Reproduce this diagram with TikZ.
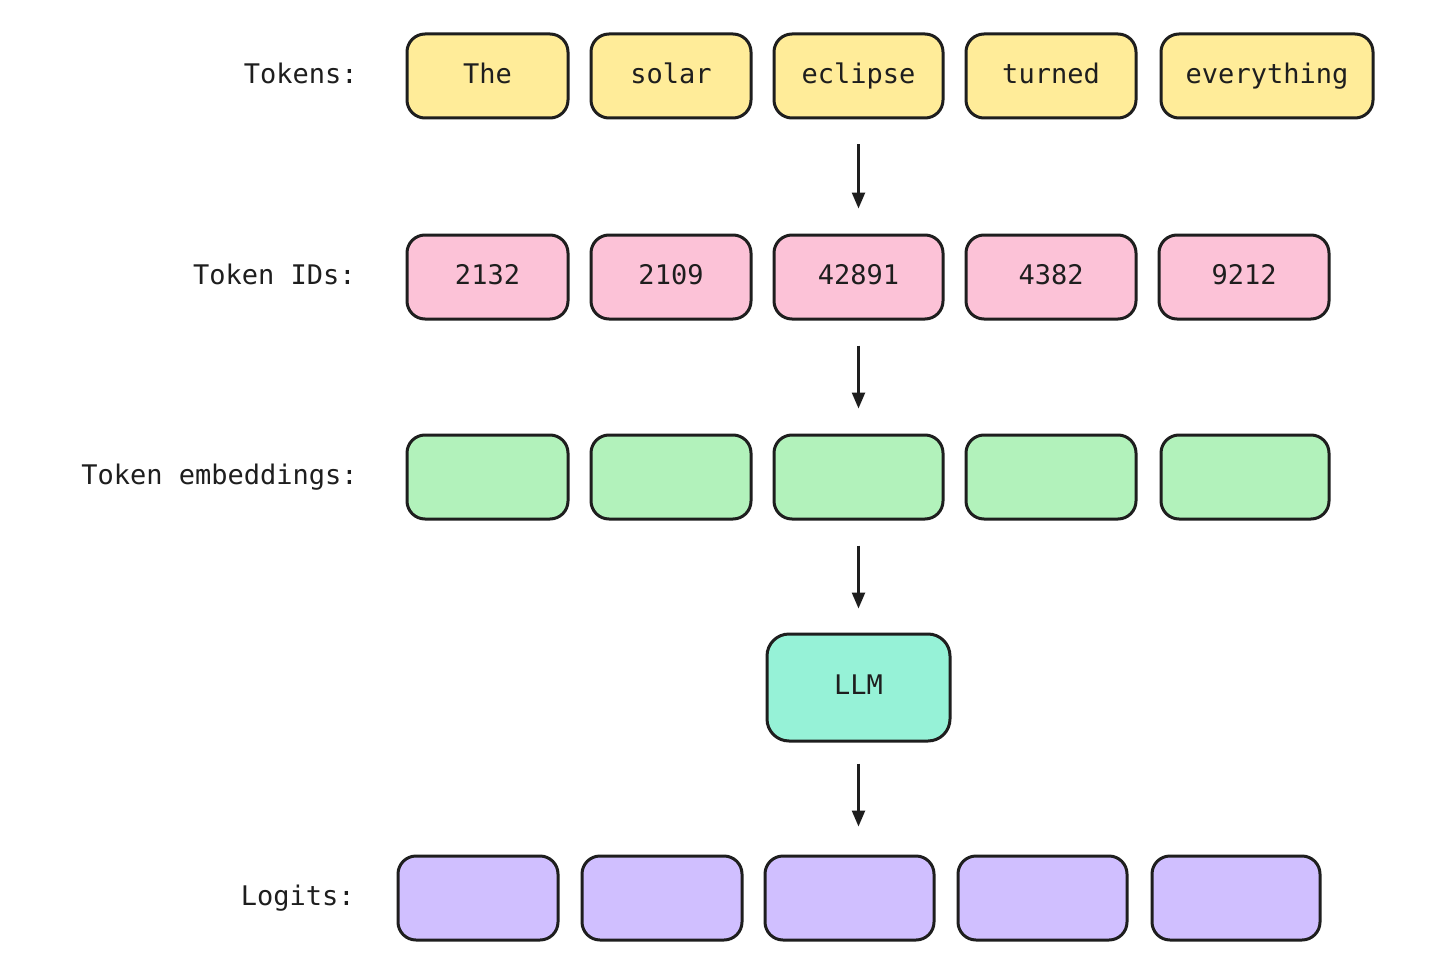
\documentclass[tikz,border=0pt]{standalone}
\usepackage{fontspec}
\setmonofont{DejaVu Sans Mono}
\usetikzlibrary{arrows.meta}
\definecolor{cyel}{HTML}{FFEC99}
\definecolor{cpink}{HTML}{FCC2D7}
\definecolor{cgreen}{HTML}{B2F2BB}
\definecolor{cteal}{HTML}{96F2D7}
\definecolor{cpurp}{HTML}{D0BFFF}
\definecolor{cstroke}{HTML}{1E1E1E}
\tikzset{
  txt/.style={font=\ttfamily\fontsize{13.5}{16}\selectfont, text=cstroke,
    text height=0.75em, text depth=0.03em},
  box/.style={txt, draw=cstroke, line width=1.5pt, rounded corners=9pt,
    minimum height=42pt, inner sep=0pt},
  lbl/.style={txt, anchor=east, inner sep=0pt},
  conn/.style={draw=cstroke, line width=1.2pt, -{Triangle[length=8pt,width=6.5pt]}}
}
\begin{document}
\begin{tikzpicture}[x=0.5pt,y=-0.5pt]
\useasboundingbox[fill=white] (0,0) rectangle (1456,974);
% labels
\node[lbl] (lt) at (358,76) {Tokens:};
\node[lbl] (li) at (356,277) {Token IDs:};
\node[lbl] (le) at (358,477) {Token embeddings:};
\node[lbl] (ll) at (355,898) {Logits:};
% tokens
\node[box, fill=cyel, minimum width=80.5pt] (t1) at (487.5,76) {The};
\node[box, fill=cyel, minimum width=80pt] (t2) at (671,76) {solar};
\node[box, fill=cyel, minimum width=84.5pt] (t3) at (858.5,76) {eclipse};
\node[box, fill=cyel, minimum width=85pt] (t4) at (1051,76) {turned};
\node[box, fill=cyel, minimum width=106pt] (t5) at (1267,76) {everything};
% ids
\node[box, fill=cpink, minimum width=80.5pt] (i1) at (487.5,277) {2132};
\node[box, fill=cpink, minimum width=80pt] (i2) at (671,277) {2109};
\node[box, fill=cpink, minimum width=84.5pt] (i3) at (858.5,277) {42891};
\node[box, fill=cpink, minimum width=85pt] (i4) at (1051,277) {4382};
\node[box, fill=cpink, minimum width=85pt] (i5) at (1244,277) {9212};
% embeddings
\node[box, fill=cgreen, minimum width=80.5pt] (e1) at (487.5,477) {};
\node[box, fill=cgreen, minimum width=80pt] (e2) at (671,477) {};
\node[box, fill=cgreen, minimum width=84.5pt] (e3) at (858.5,477) {};
\node[box, fill=cgreen, minimum width=85pt] (e4) at (1051,477) {};
\node[box, fill=cgreen, minimum width=84pt] (e5) at (1245,477) {};
% LLM
\node[box, fill=cteal, minimum width=91.5pt, minimum height=53.5pt, rounded corners=11pt] (llm) at (858.5,687.5) {LLM};
% logits
\node[box, fill=cpurp, minimum width=80pt] (o1) at (478,898) {};
\node[box, fill=cpurp, minimum width=80pt] (o2) at (662,898) {};
\node[box, fill=cpurp, minimum width=84.5pt] (o3) at (849.5,898) {};
\node[box, fill=cpurp, minimum width=84.5pt] (o4) at (1042.5,898) {};
\node[box, fill=cpurp, minimum width=84pt] (o5) at (1236,898) {};
% connectors
\draw[conn, shorten <=12.5pt, shorten >=12.5pt] (t3.south) -- (i3.north);
\draw[conn, shorten <=12.5pt, shorten >=12.5pt] (i3.south) -- (e3.north);
\draw[conn, shorten <=12.5pt, shorten >=12pt] (e3.south) -- (llm.north);
\draw[conn, shorten <=10.5pt, shorten >=14pt] (llm.south) -- (llm.south |- o3.north);
\end{tikzpicture}
\end{document}
